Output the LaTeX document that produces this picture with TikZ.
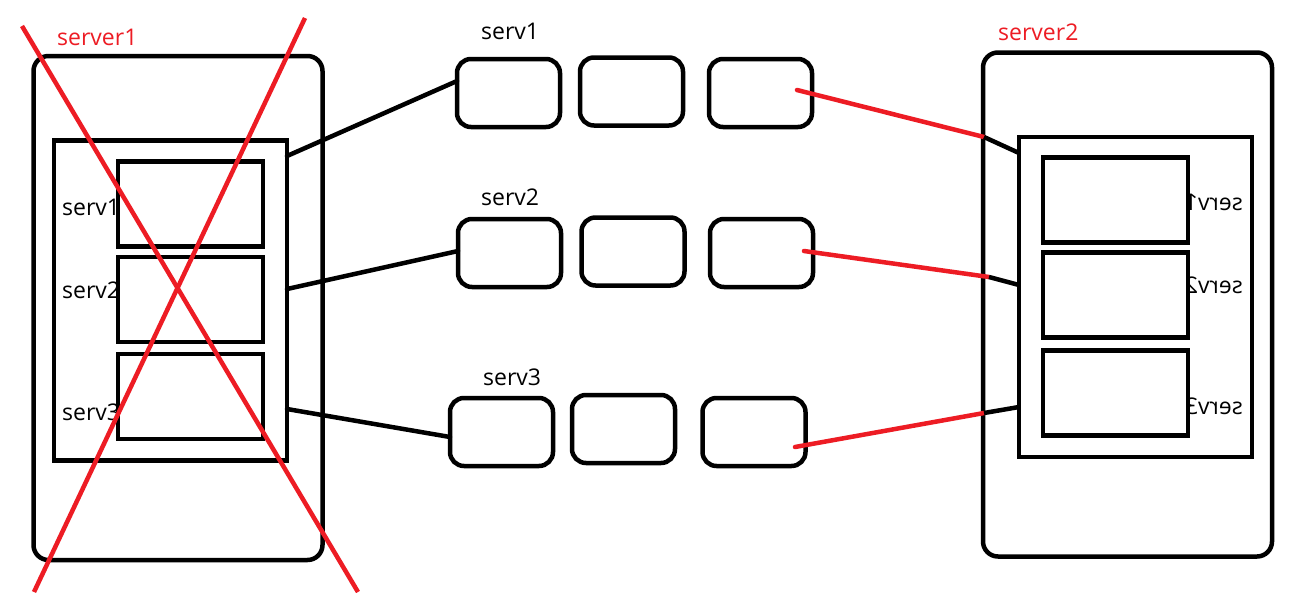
\documentclass[tikz,border=0pt]{standalone}
\usepackage{fontspec}
\setmainfont{Open Sans}
\definecolor{pred}{RGB}{237,28,36}
\begin{document}
\begin{tikzpicture}[x=1pt,y=-1pt,
  frame/.style={draw=black,line width=4.5pt,fill=white,inner sep=0pt,outer sep=0pt},
  srv/.style={frame,rounded corners=15pt,minimum width=289pt,minimum height=504pt},
  inbox/.style={frame,minimum width=233pt,minimum height=320pt},
  sub/.style={frame,minimum width=145pt,minimum height=85pt},
  qbox/.style={frame,rounded corners=14pt,minimum width=103pt,minimum height=68pt},
  lbl/.style={font=\fontsize{23}{26}\selectfont,inner sep=0pt,anchor=base west},
  rlbl/.style={font=\fontsize{23}{26}\selectfont,inner sep=0pt,anchor=base east},
  rtitle/.style={font=\fontsize{23}{26}\selectfont,text=pred,inner sep=0pt,anchor=base west},
  conn/.style={draw=black,line width=4.5pt,line cap=round},
  rconn/.style={draw=pred,line width=4.5pt,line cap=round},
  cross/.style={draw=pred,line width=4.5pt}]
\useasboundingbox (0,0) rectangle (1308,592);
\fill[white] (0,0) rectangle (1308,592);

% left server
\node[srv] (L) at (178,308) {};
\node[inbox] (Li) at (170.5,300.5) {};
\node[lbl] (Lt1) at (62,215) {serv1};
\node[lbl] (Lt2) at (62,298) {serv2};
\node[lbl] (Lt3) at (62,420) {serv3};
\node[sub] (Ls1) at (190.5,204) {};
\node[sub] (Ls2) at (190.5,299.5) {};
\node[sub] (Ls3) at (190.5,396.5) {};
\node[rtitle] (T1) at (57,45) {server1};

% right server
\node[srv] (R) at (1127.5,304.5) {};
\node[inbox] (Ri) at (1135.5,297) {};
\node[rlbl] (Rt1) at (1243,210) {\reflectbox{serv1}};
\node[rlbl] (Rt2) at (1243,293) {\reflectbox{serv2}};
\node[rlbl] (Rt3) at (1243,414) {\reflectbox{serv3}};
\node[sub] (Rs1) at (1115.5,200) {};
\node[sub] (Rs2) at (1115.5,295) {};
\node[sub] (Rs3) at (1115.5,393) {};
\node[rtitle] (T2) at (998,40) {server2};

% middle queues
\node[qbox] (A1) at (508.5,93) {};
\node[qbox] (B1) at (631.5,91.5) {};
\node[qbox] (C1) at (760.5,93) {};
\node[qbox] (A2) at (509.5,253) {};
\node[qbox] (B2) at (633,251.5) {};
\node[qbox] (C2) at (761.5,253) {};
\node[qbox] (A3) at (501.5,432) {};
\node[qbox] (B3) at (623.5,429) {};
\node[qbox] (C3) at (754,432) {};
\node[lbl] (M1) at (481,39) {serv1};
\node[lbl] (M2) at (481,205) {serv2};
\node[lbl] (M3) at (483,385) {serv3};

% connector points
\coordinate (c1) at (797,90);
\coordinate (c2) at (804,251);
\coordinate (c3) at (795,447);
\coordinate (e1) at (984,137);
\coordinate (e2) at (989,277);
\coordinate (e3) at (984,413);

% connectors
\draw[conn] (Li.east |- 0,156) -- (A1.west |- 0,81);
\draw[conn] (Li.east |- 0,289) -- (A2.west |- 0,251);
\draw[conn] (Li.east |- 0,409) -- (A3.west |- 0,437);
\draw[rconn] (c1) -- (e1);
\draw[rconn] (c2) -- (e2);
\draw[rconn] (c3) -- (e3);
\draw[conn,line cap=butt] (e1) -- (Ri.west |- 0,153);
\draw[conn,line cap=butt] (e2) -- (Ri.west |- 0,285);
\draw[conn,line cap=butt] (e3) -- (Ri.west |- 0,407);

% red cross
\coordinate (x1) at (22,26);
\coordinate (x2) at (358,592);
\coordinate (x3) at (305,18);
\coordinate (x4) at (34,592);
\draw[cross] (x1) -- (x2);
\draw[cross] (x3) -- (x4);
\end{tikzpicture}
\end{document}
